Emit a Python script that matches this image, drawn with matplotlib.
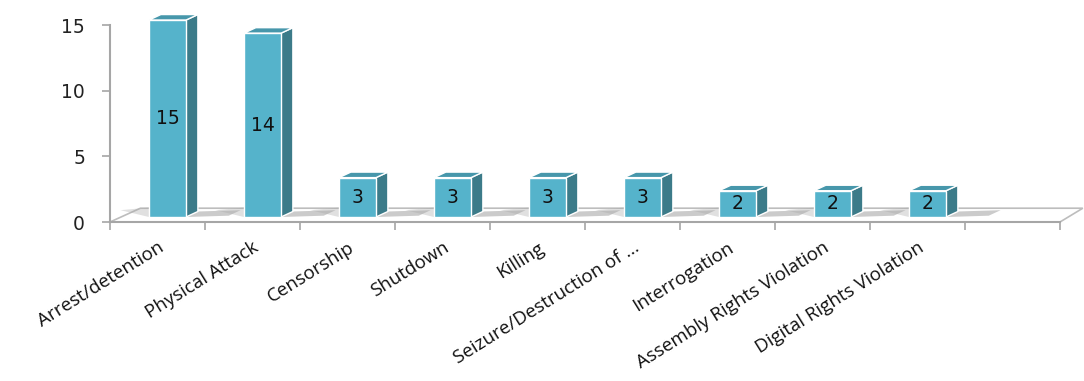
import numpy as np
import matplotlib.pyplot as plt
from matplotlib.patches import Polygon

categories = ['Arrest/detention', 'Physical Attack', 'Censorship', 'Shutdown', 'Killing',
              'Seizure/Destruction of ...', 'Interrogation', 'Assembly Rights Violation',
              'Digital Rights Violation']
values = [15, 14, 3, 3, 3, 3, 2, 2, 2]
n_slots = 10  # excel left one empty slot at the end

front_col = '#55B3CB'
side_col = '#3C7B89'
top_col = '#4797AB'

# fake 3d offsets (data units)
floor_dx, floor_dy = 0.32, 1.05
shift_x, shift_y = 0.105, 0.38
depth_x, depth_y = 0.125, 0.42
w = 0.39

fig = plt.figure(figsize=(10.84, 3.81), dpi=100)
ax = fig.add_axes([110 / 1084, (381 - 222) / 381, 950 / 1084, 16 * 13.13 / 381])
ax.set_xlim(0, n_slots)
ax.set_ylim(0, 16)

# floor
floor = Polygon([(0, 0), (n_slots, 0), (n_slots + floor_dx * 0.75, floor_dy), (floor_dx, floor_dy)],
                closed=True, facecolor='white', edgecolor='#BDBDBD', lw=1.2, clip_on=False, zorder=1)
ax.add_patch(floor)

for i, v in enumerate(values):
    c = i + 0.5
    xl = c - w / 2 + shift_x
    xr = c + w / 2 + shift_x
    y0 = shift_y
    y1 = shift_y + v
    # shadow on the floor
    sh = Polygon([(xr, y0), (xr + 0.45, y0 + 0.1), (xr + 0.45 + depth_x, y0 + depth_y + 0.1), (xr + depth_x, y0 + depth_y)],
                 closed=True, facecolor='#8C8C8C', edgecolor='none', alpha=0.45, clip_on=False, zorder=2)
    ax.add_patch(sh)
    sh2 = Polygon([(xl - 0.3, y0 + depth_y + 0.1), (xl, y0), (xl, y0 + depth_y + 0.3)],
                  closed=True, facecolor='#A8A8A8', edgecolor='none', alpha=0.35, clip_on=False, zorder=2)
    ax.add_patch(sh2)
    ax.bar(c + shift_x, v, width=w, bottom=y0, color=front_col, edgecolor='white', lw=1,
           zorder=4, clip_on=False)
    side = Polygon([(xr, y0), (xr + depth_x, y0 + depth_y), (xr + depth_x, y1 + depth_y), (xr, y1)],
                   closed=True, facecolor=side_col, edgecolor='white', lw=1, clip_on=False, zorder=3)
    top = Polygon([(xl, y1), (xr, y1), (xr + depth_x, y1 + depth_y), (xl + depth_x, y1 + depth_y)],
                  closed=True, facecolor=top_col, edgecolor='white', lw=1, clip_on=False, zorder=3)
    ax.add_patch(side)
    ax.add_patch(top)
    ax.text(c + shift_x, y0 + v / 2, str(v), ha='center', va='center', fontsize=13.5,
            family='DejaVu Sans', color='#111111', zorder=5)

# axes styling
for s in ['top', 'right']:
    ax.spines[s].set_visible(False)
ax.spines['left'].set_bounds(0, 15)
ax.spines['left'].set_color('#A6A6A6')
ax.spines['left'].set_linewidth(1.5)
ax.spines['bottom'].set_color('#A6A6A6')
ax.spines['bottom'].set_linewidth(1.5)
ax.set_yticks([0, 5, 10, 15])
ax.set_yticklabels(['0', '5', '10', '15'], fontsize=13.5, family='DejaVu Sans', color='#222222')
ax.tick_params(axis='y', length=6, width=1.2, color='#A6A6A6', pad=12)

ax.set_xticks(np.arange(len(categories)) + 0.5)
ax.set_xticklabels(categories, rotation=32, ha='right', rotation_mode='anchor',
                   fontsize=13.5, family='Open Sans', color='#111111')
ax.tick_params(axis='x', which='major', length=0, pad=12)
ax.set_xticks(np.arange(n_slots + 1), minor=True)
ax.tick_params(axis='x', which='minor', length=6, width=1.2, color='#A6A6A6')

fig.savefig('out.png', dpi=100)
